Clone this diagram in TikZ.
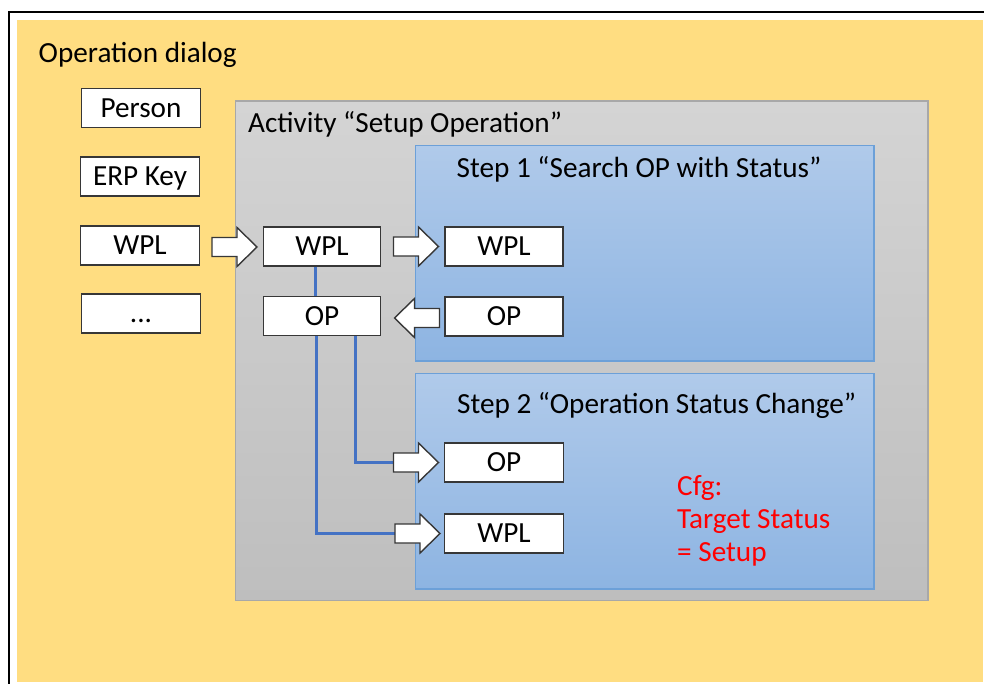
\documentclass[tikz,border=0pt]{standalone}
\usepackage{fontspec}
\setmainfont{Carlito}
\definecolor{dlgyellow}{RGB}{255,221,129}
\definecolor{actTop}{RGB}{212,212,212}
\definecolor{actBot}{RGB}{190,190,190}
\definecolor{actLine}{RGB}{168,168,168}
\definecolor{stepTop}{RGB}{176,202,234}
\definecolor{stepBot}{RGB}{141,180,226}
\definecolor{stepLine}{RGB}{108,160,216}
\definecolor{boxLine}{RGB}{55,55,55}
\definecolor{linkBlue}{RGB}{68,114,196}
\definecolor{cfgRed}{RGB}{255,0,0}
\tikzset{
  x=1pt, y=-1pt,
  txt/.style={font=\fontsize{29.2}{34}\selectfont, inner sep=0pt, anchor=base west},
  databox/.style={draw=boxLine, line width=1.5pt, fill=white, inner sep=0pt,
    minimum width=119pt, minimum height=39pt, text height=18.5pt, text depth=0pt,
    font=\fontsize{29.2}{34}\selectfont},
  arrowbox/.style={draw=boxLine, line width=1.4pt, fill=white, line join=miter},
  link/.style={draw=linkBlue, line width=2.4pt},
  barrow/.pic={\path[arrowbox] (0,-9.5) -- (25,-9.5) -- (25,-19.5) -- (45,0) -- (25,19.5) -- (25,9.5) -- (0,9.5) -- cycle;}
}
\begin{document}
\begin{tikzpicture}
\useasboundingbox (0,0) rectangle (984,684);
\fill[white] (0,0) rectangle (984,684);
% operation dialog frame
\fill[dlgyellow] (17,20.5) rectangle (983,682);
\draw[line width=2.8pt] (9,684) -- (9,12) -- (984,12);
\node[txt] (dlgtitle) at (38.5,62.5) {Operation dialog};
% activity
\shade[top color=actTop, bottom color=actBot, draw=actLine, line width=1.2pt] (235.5,101) rectangle (928,600.5);
\node[txt] (acttitle) at (248,133) {Activity “Setup Operation”};
% steps
\shade[top color=stepTop, bottom color=stepBot, draw=stepLine, line width=1.2pt] (415.5,145.5) rectangle (874,361);
\shade[top color=stepTop, bottom color=stepBot, draw=stepLine, line width=1.2pt] (415.5,373.5) rectangle (874,589);
\node[txt] (step1title) at (456.5,178) {Step 1 “Search OP with Status”};
\node[txt] (step2title) at (457,413) {Step 2 “Operation Status Change”};
% dialog fields
\node[databox] (person) at (141,108) {Person};
\node[databox] (erp) at (140,176.5) {ERP Key};
\node[databox] (dwpl) at (140,245.5) {WPL};
\node[databox] (more) at (141,313.5) {...};
% activity fields
\node[databox, minimum width=117pt] (awpl) at (322,246.5) {WPL};
\node[databox, minimum width=117pt] (aop) at (322,316) {OP};
% step fields
\node[databox, minimum width=118pt] (s1wpl) at (504,246.5) {WPL};
\node[databox, minimum width=118pt] (s1op) at (504,316.5) {OP};
\node[databox, minimum width=119pt] (s2op) at (504,462.5) {OP};
\node[databox, minimum width=119pt] (s2wpl) at (504,533.5) {WPL};
% blue links
\coordinate (tailop) at (394,462.5);
\coordinate (tailwpl) at (396,533.5);
\draw[link] (awpl.south -| 315.5,0) -- (aop.north -| 315.5,0);
\draw[link] (aop.south -| 355.5,0) |- (tailop);
\draw[link] (aop.south -| 316.5,0) |- (tailwpl);
% block arrows
\pic at (212,247) {barrow};
\pic at (393.5,246.5) {barrow};
\pic[xscale=-1] at (439.5,318) {barrow};
\pic at (393.5,462.5) {barrow};
\pic at (395,533.5) {barrow};
% configuration
\node[txt, text=cfgRed] (cfg1) at (677,495) {Cfg:};
\node[txt, text=cfgRed] (cfg2) at (677,528) {Target Status};
\node[txt, text=cfgRed] (cfg3) at (677,561.5) {= Setup};
\end{tikzpicture}
\end{document}
